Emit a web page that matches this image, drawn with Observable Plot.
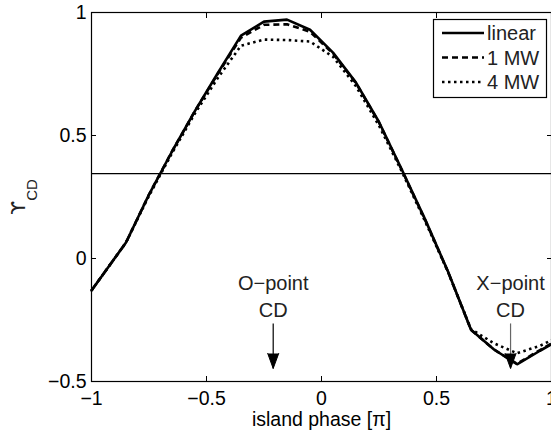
<!DOCTYPE html>
<html><head><meta charset="utf-8">
<script src="https://cdn.jsdelivr.net/npm/d3@7"></script>
<script src="https://cdn.jsdelivr.net/npm/@observablehq/plot@0.6"></script>
<style>body{margin:0;background:#fff}</style>
</head><body><div id="chart"></div>
<script>
// island phase in units of pi
const phase  = [-1, -0.85, -0.75, -0.65, -0.55, -0.45, -0.35, -0.25, -0.15, -0.05, 0.05, 0.15, 0.25, 0.35, 0.45, 0.55, 0.65, 0.75, 0.85, 0.95, 1];
const linear = [-0.13, 0.065, 0.26, 0.435, 0.60, 0.755, 0.906, 0.963, 0.971, 0.93, 0.837, 0.715, 0.555, 0.36, 0.16, -0.053, -0.29, -0.37, -0.43, -0.375, -0.348];
const mw1    = [-0.13, 0.065, 0.26, 0.435, 0.60, 0.752, 0.898, 0.95, 0.952, 0.922, 0.833, 0.713, 0.553, 0.358, 0.158, -0.054, -0.29, -0.37, -0.428, -0.372, -0.346];
const mw4    = [-0.13, 0.065, 0.255, 0.428, 0.59, 0.735, 0.865, 0.89, 0.888, 0.882, 0.82, 0.70, 0.54, 0.352, 0.152, -0.055, -0.287, -0.345, -0.385, -0.355, -0.332];
const seriesNames = ["linear", "1 MW", "4 MW"];
const threshold = 0.345;
const xTicks = [-1, -0.5, 0, 0.5, 1];
const yTicks = [-0.5, 0, 0.5, 1];
const annLine1 = ["O\u2212point", "X\u2212point"];
const annLine2 = ["CD", "CD"];
const annX     = [-0.21, 0.822];
const annY1    = [-0.104, -0.104];
const annY2    = [-0.211, -0.211];
const arrowFrom = [-0.264, -0.264];
const arrowTo   = [-0.447, -0.447];
const arrowColor = ["black", "#666"];
const xLabel = "island phase [\u03c0]";

const rows = phase.map((p, i) => ({p, linear: linear[i], mw1: mw1[i], mw4: mw4[i]}));
const ann = annX.map((x, i) => ({x, t1: annLine1[i], t2: annLine2[i], y1: annY1[i], y2: annY2[i], a0: arrowFrom[i], a1: arrowTo[i], c: arrowColor[i]}));
const fmt = d => d === 0 ? "0" : (d < 0 ? "\u2212" : "") + Math.abs(d);
const blank = () => "";

const chart = Plot.plot({
  width: 551, height: 430,
  marginLeft: 91, marginRight: 0, marginTop: 12, marginBottom: 49,
  x: {domain: [-1, 1]},
  y: {domain: [-0.5, 1]},
  style: {fontFamily: "'Liberation Sans', Arial, sans-serif", fontSize: "19.5px", color: "black", background: "white", overflow: "hidden"},
  marks: [
    Plot.axisX({ticks: xTicks, tickSize: 0, tickPadding: 10, tickFormat: fmt, label: null, fontSize: 19.5}),
    Plot.axisX({ticks: xTicks, tickSize: -5, tickFormat: blank, label: null}),
    Plot.axisX({ticks: xTicks, anchor: "top", tickSize: -5, tickFormat: blank, label: null}),
    Plot.axisY({ticks: yTicks, tickSize: 0, tickPadding: 5, tickFormat: fmt, label: null, fontSize: 19.5}),
    Plot.axisY({ticks: yTicks, tickSize: -5, tickFormat: blank, label: null}),
    Plot.axisY({ticks: yTicks, anchor: "right", tickSize: -5, tickFormat: blank, label: null}),
    Plot.ruleY([threshold], {stroke: "black", strokeWidth: 1.2}),
    Plot.line(rows, {x: "p", y: "linear", stroke: "black", strokeWidth: 2.6, strokeLinejoin: "miter"}),
    Plot.line(rows, {x: "p", y: "mw1", stroke: "black", strokeWidth: 2.6, strokeDasharray: "6,4", strokeLinecap: "butt"}),
    Plot.line(rows, {x: "p", y: "mw4", stroke: "black", strokeWidth: 2.6, strokeDasharray: "2.5,3.5", strokeLinecap: "butt"}),
    Plot.text(ann, {x: "x", y: "y1", text: "t1", fill: "#222", fontSize: 20}),
    Plot.text(ann, {x: "x", y: "y2", text: "t2", fill: "#222", fontSize: 20}),
    Plot.link(ann, {x1: "x", x2: "x", y1: "a0", y2: "a1", stroke: "c", strokeWidth: 1.2}),
    Plot.vector(ann, {x: "x", y: "a1", rotate: 180, length: 15, r: 5.5, anchor: "end", shape: "spike", fill: "black", stroke: "black", strokeWidth: 1}),
    Plot.text([xLabel], {frameAnchor: "bottom", dy: 44, fontSize: 19.5}),
    Plot.frame({stroke: "black", strokeWidth: 1.2})
  ]
});
document.getElementById("chart").appendChild(chart);

// y-axis label with subscript
const svg = d3.select(chart);
const yl = svg.append("text")
  .attr("transform", "translate(25,197) rotate(-90)")
  .attr("text-anchor", "middle")
  .attr("font-family", "'DejaVu Sans', sans-serif")
  .attr("fill", "#222");
yl.append("tspan").attr("font-size", 20).text("\u03d2");
yl.append("tspan").attr("font-size", 15).attr("dy", 12).attr("font-family", "'Liberation Sans', Arial, sans-serif").text("CD");

// legend
const lg = svg.append("g").attr("font-family", "'Liberation Sans', Arial, sans-serif").attr("font-size", 20).attr("text-anchor", "start");
lg.append("rect").attr("x", 433.5).attr("y", 19.5).attr("width", 113).attr("height", 78)
  .attr("fill", "white").attr("stroke", "black").attr("stroke-width", 1.2);
const dashes = [null, "6,4", "2.5,3.5"];
seriesNames.forEach((name, i) => {
  const yy = 33 + i * 24.5;
  lg.append("line").attr("x1", 442).attr("x2", 484).attr("y1", yy).attr("y2", yy)
    .attr("stroke", "black").attr("stroke-width", 2.6)
    .attr("stroke-dasharray", dashes[i]);
  lg.append("text").attr("x", 487).attr("y", yy).attr("dy", "0.35em").attr("text-anchor", "start").attr("fill", "#222").text(name);
});
</script>
</body></html>
